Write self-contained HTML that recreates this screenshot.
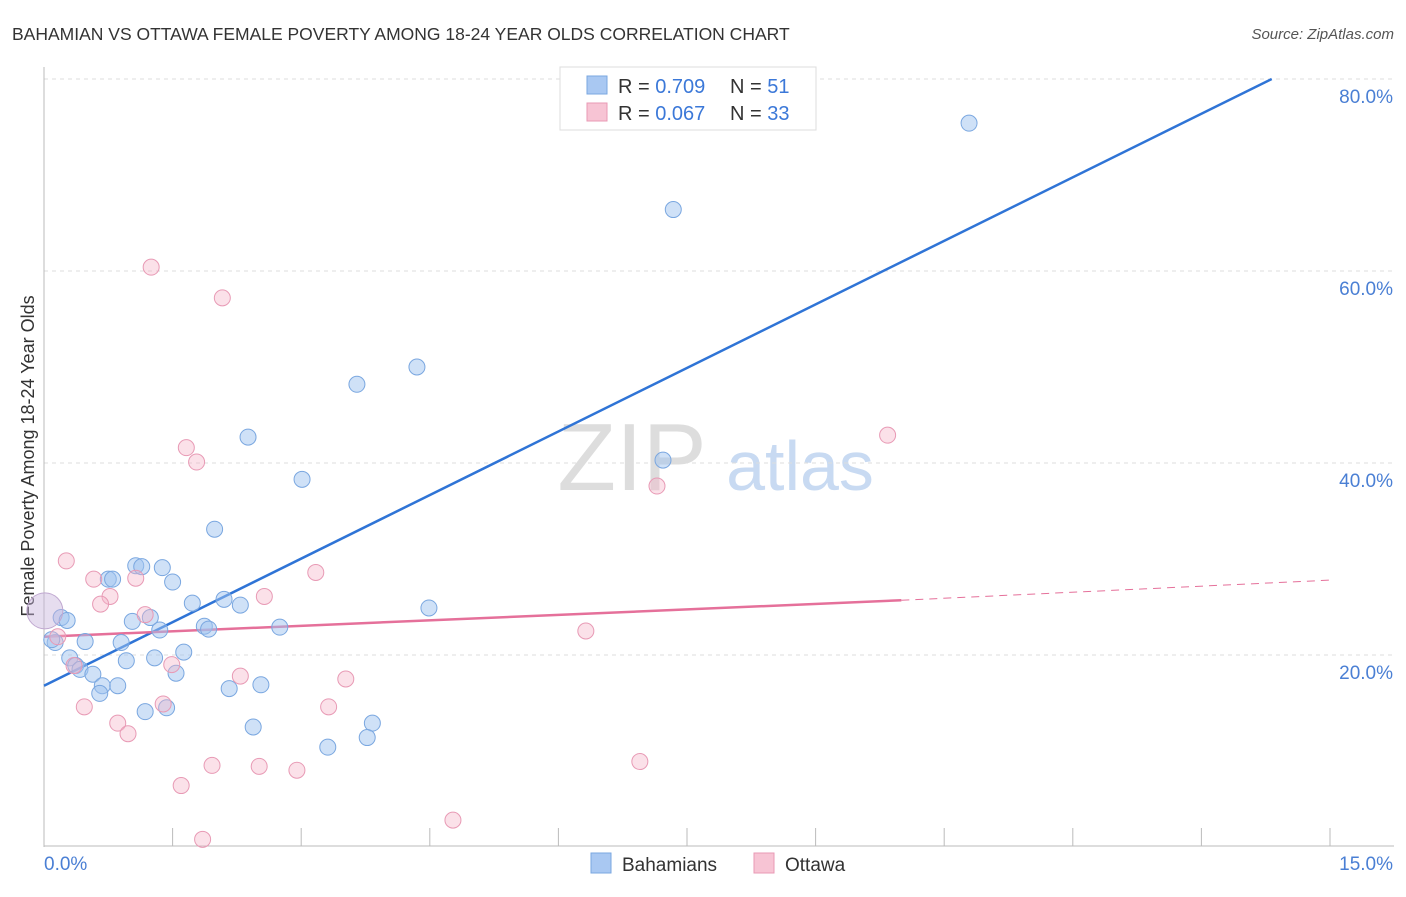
<!DOCTYPE html>
<html><head><meta charset="utf-8"><style>
body{margin:0;background:#fff;font-family:"Liberation Sans",sans-serif;}
svg text{font-family:"Liberation Sans",sans-serif;}
</style></head><body>
<svg width="1406" height="892" viewBox="0 0 1406 892" id="chart">
<text x="12" y="40" font-size="17.5" fill="#333">BAHAMIAN VS OTTAWA FEMALE POVERTY AMONG 18-24 YEAR OLDS CORRELATION CHART</text>
<text x="1394" y="39" font-size="15" fill="#555" text-anchor="end" font-style="italic">Source: ZipAtlas.com</text>
<text transform="translate(34,456) rotate(-90)" font-size="18" fill="#333" text-anchor="middle">Female Poverty Among 18-24 Year Olds</text>
<g>
<text x="632" y="490" font-size="96" fill="#ddd" font-family="Liberation Serif" text-anchor="middle">ZIP</text>
<text x="800" y="490" font-size="70" fill="#c8daf2" text-anchor="middle">atlas</text>
</g>
<g id="grid"></g><g id="axes"></g><g id="lines"></g><g id="pts"></g>
<g>
<rect x="560" y="67" width="256" height="63" fill="#fff" stroke="#ddd"/>
<rect x="587" y="76" width="20" height="18" fill="#a9c8f2" stroke="#7aa7e0"/>
<rect x="587" y="103" width="20" height="18" fill="#f7c4d4" stroke="#e89ab5"/>
<text x="618" y="93" font-size="20" fill="#333">R = <tspan fill="#3b78d8">0.709</tspan><tspan x="730">N = </tspan><tspan fill="#3b78d8">51</tspan></text>
<text x="618" y="120" font-size="20" fill="#333">R = <tspan fill="#3b78d8">0.067</tspan><tspan x="730">N = </tspan><tspan fill="#3b78d8">33</tspan></text>
</g>
<g>
<rect x="591" y="853" width="20" height="20" fill="#a9c8f2" stroke="#7aa7e0"/>
<text x="622" y="871" font-size="19" fill="#333">Bahamians</text>
<rect x="754" y="853" width="20" height="20" fill="#f7c4d4" stroke="#e89ab5"/>
<text x="785" y="871" font-size="19" fill="#333">Ottawa</text>
</g>
</svg>
<script>
const xTicks=[0,1.5,3,4.5,6,7.5,9,10.5,12,13.5,15];
const yTicks=[20,40,60,80];
const yTickLabels=["20.0%","40.0%","60.0%","80.0%"];
const blueX=[10.79,7.34,4.35,3.65,2.38,3.01,7.22,1.99,1.07,1.14,1.38,0.75,0.80,1.50,1.73,2.10,2.29,4.49,0.20,0.27,1.24,1.03,1.35,1.87,1.92,2.75,0.48,0.90,0.13,1.63,0.30,1.29,0.96,0.37,0.42,0.57,1.54,0.68,0.86,0.65,2.16,2.53,1.18,1.43,3.83,2.44,3.77,3.31,0.09];
const blueY=[75.4,66.4,50.0,48.2,42.7,38.3,40.3,33.1,29.3,29.2,29.1,27.9,27.9,27.6,25.4,25.8,25.2,24.9,23.9,23.6,23.9,23.5,22.6,23.0,22.7,22.9,21.4,21.3,21.3,20.3,19.7,19.7,19.4,18.9,18.5,18.0,18.1,16.8,16.8,16.0,16.5,16.9,14.1,14.5,12.9,12.5,11.4,10.4,21.6];
const pinkX=[1.25,2.08,1.66,1.78,7.15,9.84,0.26,3.17,0.58,1.07,0.77,2.57,0.66,1.18,0.16,6.32,0.35,1.49,2.29,3.52,1.39,3.32,0.47,0.86,0.98,1.96,2.51,2.95,6.95,1.60,4.77,1.85];
const pinkY=[60.4,57.2,41.6,40.1,37.6,42.9,29.8,28.6,27.9,28.0,26.1,26.1,25.3,24.2,21.9,22.5,18.9,19.0,17.8,17.5,14.9,14.6,14.6,12.9,11.8,8.5,8.4,8.0,8.9,6.4,2.8,0.8];
const blueTrend=[[0,16.8],[14.32,80]];
const pinkTrend=[[0,21.9],[10.0,25.7]];
const pinkTrendExt=[[10.0,25.7],[15,27.8]];
const X=v=>44+v*(1330-44)/15, Y=v=>847-v*9.6;
const NS="http://www.w3.org/2000/svg";
function mk(p,t,a){const e=document.createElementNS(NS,t);for(const k in a)e.setAttribute(k,a[k]);document.getElementById(p).appendChild(e);return e;}
yTicks.forEach((t,i)=>{
 const g=mk('grid','line',{x1:44,x2:1394,y1:Y(t),y2:Y(t),stroke:'#ddd','stroke-dasharray':'4,4'});
 
 
 const l=mk('axes','text',{x:1393,y:Y(t)+24,'font-size':19,fill:'#4a7fd4','text-anchor':'end'});l.textContent=yTickLabels[i];
 
 
});
const topGrid=mk('grid','line',{x1:44,x2:1394,y1:79,y2:79,stroke:'#ddd','stroke-dasharray':'4,4'});


mk('axes','line',{x1:44,x2:44,y1:67,y2:847,stroke:'#bbb'});
mk('axes','line',{x1:44,x2:1394,y1:846,y2:846,stroke:'#bbb'});
xTicks.forEach(t=>{const e=mk('axes','line',{x1:X(t),x2:X(t),y1:828,y2:846,stroke:'#bbb'});
 
 });
let a=mk('axes','text',{x:44,y:870,'font-size':19,fill:'#4a7fd4'});a.textContent='0.0%';


a=mk('axes','text',{x:1393,y:870,'font-size':19,fill:'#4a7fd4','text-anchor':'end'});a.textContent='15.0%';


blueX.forEach((v,i)=>{const c=mk('pts','circle',{cx:X(v),cy:Y(blueY[i]),r:8,fill:'rgba(160,196,240,0.5)',stroke:'#7aa7e0','stroke-width':1});
 
 });
pinkX.forEach((v,i)=>{const c=mk('pts','circle',{cx:X(v),cy:Y(pinkY[i]),r:8,fill:'rgba(245,180,200,0.4)',stroke:'#e89ab5','stroke-width':1});
 
 });
let big=mk('pts','circle',{cx:X(0.01),cy:Y(24.6),r:18,fill:'rgba(200,180,220,0.45)',stroke:'#c0a8d0'});


let l1=mk('lines','line',{x1:X(blueTrend[0][0]),y1:Y(blueTrend[0][1]),x2:X(blueTrend[1][0]),y2:Y(blueTrend[1][1]),stroke:'#2f74d6','stroke-width':2.5});


let l2=mk('lines','line',{x1:X(pinkTrend[0][0]),y1:Y(pinkTrend[0][1]),x2:X(pinkTrend[1][0]),y2:Y(pinkTrend[1][1]),stroke:'#e5709a','stroke-width':2.5});


let l3=mk('lines','line',{x1:X(pinkTrendExt[0][0]),y1:Y(pinkTrendExt[0][1]),x2:X(pinkTrendExt[1][0]),y2:Y(pinkTrendExt[1][1]),stroke:'#e5709a','stroke-width':1,'stroke-dasharray':'8,6'});


</script>
</body></html>
